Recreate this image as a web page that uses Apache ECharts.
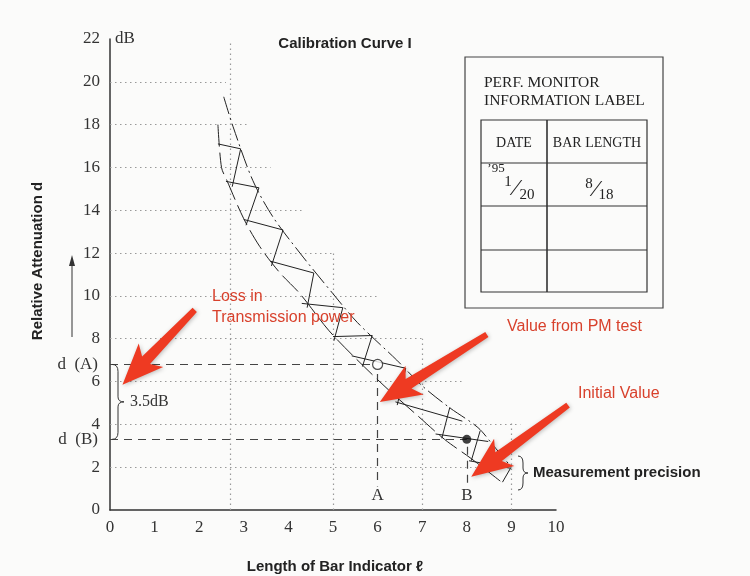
<!DOCTYPE html>
<html>
<head>
<meta charset="utf-8">
<script src="https://cdn.jsdelivr.net/npm/echarts@6/dist/echarts.min.js"></script>
<style>
  html, body { margin: 0; padding: 0; background: #fbfbfa; }
  #main { width: 750px; height: 576px; }
</style>
</head>
<body>
<div id="main"></div>
<script>
const SERIF = '"Liberation Serif", "DejaVu Serif", serif';
const SANS = '"Liberation Sans", Arial, sans-serif';
const RED = '#ee3a22';

// readings (bar length, dB)
const dA = 6.8, dB = 3.3;       // d(A), d(B)
const barA = 6, barB = 8;        // A, B on the bar scale

// calibration band, lower/left and upper/right edge
const leftEdge = [[2.42, 18.0], [2.5, 16.0], [2.62, 15.4], [3.0, 13.6], [3.36, 12.3], [3.8, 11.1],
  [4.26, 10.1], [4.9, 8.4], [5.5, 7.1], [6.25, 5.6], [6.9, 4.4], [7.5, 3.3], [8.1, 2.4], [8.75, 1.35]];
const rightEdge = [[2.55, 19.3], [2.76, 17.9], [3.2, 15.4], [3.65, 13.7], [4.26, 12.0], [5.0, 10.1],
  [5.55, 8.75], [6.43, 7.0], [7.0, 5.8], [7.6, 4.8], [8.25, 3.85], [8.6, 3.0], [9.0, 2.0]];
// cross hatching inside the band: shallow strokes and steep strokes [x1, y1, x2, y2]
const hatchShallow = [[2.42, 17.1, 2.93, 16.87], [2.6, 15.35, 3.34, 15.05], [3.0, 13.57, 3.88, 13.08],
  [3.6, 11.62, 4.57, 11.07], [4.3, 9.65, 5.22, 9.45], [5.0, 8.1, 5.88, 8.15], [5.42, 7.2, 6.63, 6.62],
  [6.4, 5.05, 7.9, 4.15], [7.3, 3.55, 8.48, 3.2], [8.05, 2.3, 8.98, 1.95]];
const hatchSteep = [[2.93, 16.87, 2.74, 15.1], [3.34, 15.05, 3.05, 13.3], [3.88, 13.08, 3.62, 11.4],
  [4.57, 11.07, 4.42, 9.45], [5.22, 9.45, 5.02, 7.9], [5.88, 8.15, 5.66, 6.7], [6.63, 6.62, 6.44, 4.9],
  [7.62, 4.8, 7.44, 3.35], [8.3, 3.7, 8.1, 2.3], [8.98, 1.95, 8.8, 1.3]];

// partial dotted grid: [y, x end] and [x, y top]
const hGrid = [[20, 2.6], [18, 3.1], [16, 3.6], [14, 4.3], [12, 5.0], [10, 6.0], [8, 7.0], [6, 7.9], [4, 9.2], [2, 9.0]];
const vGrid = [[2.7, 21.9], [5, 12], [7, 8], [9, 4.1]];

const chart = echarts.init(document.getElementById('main'));

const gridLines = hGrid.map(([y, x]) => ({coords: [[0, y], [x, y]]}))
  .concat(vGrid.map(([x, y]) => ({coords: [[x, 0], [x, y]]})));

const guideLines = [
  {coords: [[0, dA], [barA - 0.12, dA]]},
  {coords: [[0, dB], [barB, dB]]},
  {coords: [[barA, dA - 0.45], [barA, 1.1]]},
  {coords: [[barB, dB - 0.35], [barB, 1.1]]},
];

const hatchLines = hatchShallow.concat(hatchSteep).map(s => ({coords: [[s[0], s[1]], [s[2], s[3]]]}));

const edgeStyle = {color: '#222', width: 1};

chart.setOption({
  backgroundColor: '#fbfbfa',
  animation: false,
  grid: {left: 110, right: 194, top: 39, bottom: 66},
  xAxis: {
    type: 'value', min: 0, max: 10, interval: 1,
    axisLine: {lineStyle: {color: '#333', width: 1.5}},
    axisTick: {show: false},
    splitLine: {show: false},
    axisLabel: {fontFamily: SERIF, fontSize: 17, color: '#333', margin: 9},
  },
  yAxis: {
    type: 'value', min: 0, max: 22, interval: 2,
    axisLine: {show: true, lineStyle: {color: '#333', width: 1.5}},
    axisTick: {show: false},
    splitLine: {show: false},
    axisLabel: {fontFamily: SERIF, fontSize: 17, color: '#333', margin: 10},
  },
  series: [
    {
      type: 'lines', coordinateSystem: 'cartesian2d', silent: true,
      lineStyle: {color: '#999', width: 1.2, type: [1.5, 3.5], opacity: 1},
      data: gridLines,
    },
    {
      type: 'lines', coordinateSystem: 'cartesian2d', silent: true,
      lineStyle: {color: '#444', width: 1.2, type: [8, 6], opacity: 1},
      data: guideLines,
    },
    {type: 'line', data: leftEdge, showSymbol: false, smooth: 0.3, lineStyle: {...edgeStyle, type: [22, 6]}},
    {type: 'line', data: rightEdge, showSymbol: false, smooth: 0.3, lineStyle: {...edgeStyle, type: [18, 4, 2, 4]}},
    {
      type: 'lines', coordinateSystem: 'cartesian2d', silent: true,
      lineStyle: {color: '#222', width: 1, opacity: 1},
      data: hatchLines,
    },
    {
      type: 'scatter', data: [[barA, dA]], symbolSize: 10, z: 5,
      itemStyle: {color: '#fff', borderColor: '#222', borderWidth: 1.2},
    },
    {type: 'scatter', data: [[barB, dB]], symbolSize: 9, z: 5, itemStyle: {color: '#111'}},
  ],
});

const P = (x, y) => chart.convertToPixel({gridIndex: 0}, [x, y]);

function txt(x, y, text, font, fill, align, extra) {
  return Object.assign({
    type: 'text', x: x, y: y, z: 10,
    style: {
      text: text, font: font, fill: fill || '#222',
      textAlign: align || 'left', align: align || 'left',
      textVerticalAlign: 'middle', verticalAlign: 'middle',
    },
  }, extra || {});
}

function arrowShape(t, h) {   // keynote style red arrow
  const dx = h[0] - t[0], dy = h[1] - t[1], L = Math.hypot(dx, dy);
  const ux = dx / L, uy = dy / L, nx = -uy, ny = ux;
  const headLen = 34, headHalf = 17, back = 7, tailHalf = 3, neckHalf = 5.5;
  const bx = h[0] - ux * headLen, by = h[1] - uy * headLen;
  const pt = (x, y, n, b) => [x + nx * n - ux * b, y + ny * n - uy * b];
  return [pt(t[0], t[1], tailHalf, 0), pt(bx, by, neckHalf, 0), pt(bx, by, headHalf, back), [h[0], h[1]],
    pt(bx, by, -headHalf, back), pt(bx, by, -neckHalf, 0), pt(t[0], t[1], -tailHalf, 0)];
}

function redArrow(t, h) {
  return {
    type: 'polygon', z: 20, shape: {points: arrowShape(P(t[0], t[1]), P(h[0], h[1]))},
    style: {fill: RED, shadowBlur: 4, shadowColor: 'rgba(0,0,0,0.25)', shadowOffsetX: 1, shadowOffsetY: 1},
  };
}

function brace(x, y0, y1, w) {   // "}" shaped brace, built from curves and lines
  const m = (y0 + y1) / 2, c = x + w / 2;
  const st = {fill: 'none', stroke: '#333', lineWidth: 1};
  const curve = (x1, y1, cx, cy, x2, y2) => ({type: 'bezierCurve', z: 10, shape: {x1, y1, cpx1: cx, cpy1: cy, x2, y2}, style: st});
  const seg = (x1, y1, x2, y2) => ({type: 'line', z: 10, shape: {x1, y1, x2, y2}, style: st});
  return [
    curve(x, y0, c, y0, c, y0 + 7), seg(c, y0 + 7, c, m - 5), curve(c, m - 5, c, m, x + w, m),
    curve(x + w, m, c, m, c, m + 5), seg(c, m + 5, c, y1 - 7), curve(c, y1 - 7, c, y1, x, y1),
  ];
}

const pA = P(0, dA), pB = P(0, dB), p22 = P(0, 22);
const pLblA = P(barA, 0.55), pLblB = P(barB, 0.55);
const BOLD = 'bold 15px ' + SANS;
const REDFONT = '16px ' + SANS;

const graphic = [
  txt(345, 44, 'Calibration Curve I', BOLD, '#222', 'center'),
  txt(p22[0] + 5, p22[1], 'dB', '17px ' + SERIF, '#333'),
  txt(98, pA[1], 'd  (A)', '17px ' + SERIF, '#333', 'right'),
  txt(98, pB[1], 'd  (B)', '17px ' + SERIF, '#333', 'right'),
  ...brace(pA[0] + 2, pA[1], pB[1], 12),
  txt(pA[0] + 20, (pA[1] + pB[1]) / 2, '3.5dB', '16px ' + SERIF, '#333'),
  txt(38, 261, 'Relative Attenuation d', BOLD, '#222', 'center', {rotation: Math.PI / 2}),
  {type: 'line', z: 10, shape: {x1: 72, y1: 337, x2: 72, y2: 262}, style: {stroke: '#333', lineWidth: 1}},
  {type: 'polygon', z: 10, shape: {points: [[72, 255], [69, 266], [75, 266]]}, style: {fill: '#333'}},
  txt(335, 567, 'Length of Bar Indicator \u2113', BOLD, '#222', 'center'),
  txt(pLblA[0], pLblA[1] - 3, 'A', '17px ' + SERIF, '#333', 'center'),
  txt(pLblB[0], pLblB[1] - 3, 'B', '17px ' + SERIF, '#333', 'center'),
  ...brace(518, 456, 490, 10),
  txt(533, 473, 'Measurement precision', BOLD, '#222'),

  // performance monitor label
  {type: 'rect', z: 10, shape: {x: 465, y: 57, width: 198, height: 251}, style: {fill: 'none', stroke: '#444', lineWidth: 1.2}},
  {type: 'rect', z: 10, shape: {x: 481, y: 120, width: 166, height: 172}, style: {fill: 'none', stroke: '#333', lineWidth: 1.2}},
  {type: 'line', z: 10, shape: {x1: 547, y1: 120, x2: 547, y2: 292}, style: {stroke: '#333', lineWidth: 1.6}},
  {type: 'line', z: 10, shape: {x1: 481, y1: 163, x2: 647, y2: 163}, style: {stroke: '#333', lineWidth: 1.2}},
  {type: 'line', z: 10, shape: {x1: 481, y1: 206, x2: 647, y2: 206}, style: {stroke: '#333', lineWidth: 1.2}},
  {type: 'line', z: 10, shape: {x1: 481, y1: 250, x2: 647, y2: 250}, style: {stroke: '#333', lineWidth: 1.2}},
  txt(484, 83, 'PERF. MONITOR', '15.5px ' + SERIF, '#222'),
  txt(484, 101, 'INFORMATION LABEL', '15.5px ' + SERIF, '#222'),
  txt(514, 143, 'DATE', '14px ' + SERIF, '#222', 'center'),
  txt(597, 143, 'BAR LENGTH', '14px ' + SERIF, '#222', 'center'),
  txt(496, 169, '\u201995', '13px ' + SERIF, '#222', 'center'),
  txt(508, 182, '1', '15px ' + SERIF, '#222', 'center'),
  txt(516, 189, '\u2044', '24px ' + SERIF, '#222', 'center'),
  txt(527, 195, '20', '15px ' + SERIF, '#222', 'center'),
  txt(589, 184, '8', '15px ' + SERIF, '#222', 'center'),
  txt(596, 190, '\u2044', '24px ' + SERIF, '#222', 'center'),
  txt(606, 195, '18', '15px ' + SERIF, '#222', 'center'),

  // red annotations
  txt(212, 297, 'Loss in', REDFONT, '#d8412c'),
  txt(212, 318, 'Transmission power', REDFONT, '#d8412c'),
  txt(507, 327, 'Value from PM test', REDFONT, '#d8412c'),
  txt(578, 394, 'Initial Value', REDFONT, '#d8412c'),
  redArrow([1.9, 9.35], [0.28, 5.85]),
  redArrow([8.45, 8.2], [6.05, 5.05]),
  redArrow([10.27, 4.9], [8.1, 1.55]),
];

chart.setOption({graphic: graphic});
</script>
</body>
</html>
